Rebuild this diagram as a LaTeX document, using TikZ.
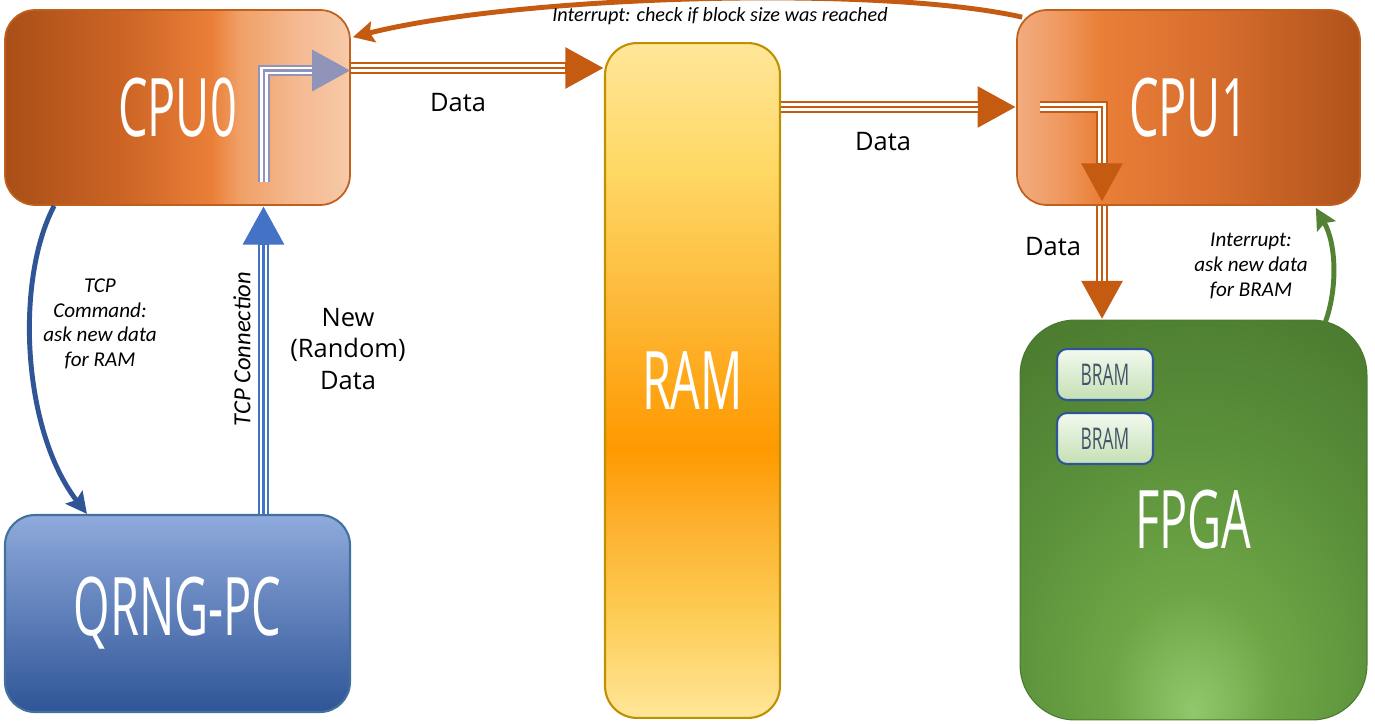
\documentclass[tikz,border=0pt]{standalone}
\usepackage{fontspec}
\setmainfont{Open Sans}
\newfontfamily\blockfont[FakeStretch=0.58]{Open Sans}
\newfontfamily\notefont{Carlito}
\usetikzlibrary{arrows.meta,calc}

% colours
\definecolor{cpudark}{HTML}{A94F17}
\definecolor{cpumid}{HTML}{CC6425}
\definecolor{cpuorange}{HTML}{EA7F38}
\definecolor{cpupeach}{HTML}{F0A067}
\definecolor{cpupale}{HTML}{F4B890}
\definecolor{cpulight}{HTML}{F7CAA8}
\definecolor{cpuleft}{HTML}{F2AC7E}
\definecolor{cpuleftb}{HTML}{EF9A62}
\definecolor{cpuright}{HTML}{B0521A}
\definecolor{cpurightb}{HTML}{D56C2C}
\definecolor{cpuedge}{HTML}{C0601F}
\definecolor{ramlight}{HTML}{FFE699}
\definecolor{ramlow}{HTML}{FDCB52}
\definecolor{ramdeep}{HTML}{FDAE2A}
\definecolor{ramorange}{HTML}{FF9900}
\definecolor{ramupper}{HTML}{FDBA3A}
\definecolor{ramyellow}{HTML}{FFD966}
\definecolor{ramedge}{HTML}{BF9000}
\definecolor{qrnglight}{HTML}{8FAADC}
\definecolor{qrngmid}{HTML}{4F7ACB}
\definecolor{qrngdark}{HTML}{2F5597}
\definecolor{qrngedge}{HTML}{41719C}
\definecolor{fpgalight}{HTML}{92C86D}
\definecolor{fpgamid}{HTML}{6EA646}
\definecolor{fpgamain}{HTML}{5A8F3A}
\definecolor{fpgadark}{HTML}{4A7A2E}
\definecolor{bramtop}{HTML}{F3F9EF}
\definecolor{brambottom}{HTML}{C5E0B4}
\definecolor{bramedge}{HTML}{2F5597}
\definecolor{bramtext}{HTML}{44546A}
\definecolor{linkorange}{HTML}{C55A11}
\definecolor{linkgrey}{HTML}{8F94B8}
\definecolor{linkblue}{HTML}{4472C4}
\definecolor{cmdblue}{HTML}{2F5597}
\definecolor{irqgreen}{HTML}{548235}

% shadings
\pgfdeclarehorizontalshading{cpuzeroshade}{100bp}{color(0bp)=(cpudark); color(25bp)=(cpudark);
  color(42bp)=(cpumid); color(55bp)=(cpuorange); color(59bp)=(cpupeach); color(67bp)=(cpupale);
  color(75bp)=(cpulight); color(100bp)=(cpulight)}
\pgfdeclarehorizontalshading{cpuoneshade}{100bp}{color(0bp)=(cpuleft); color(25bp)=(cpuleft);
  color(31bp)=(cpuleftb); color(37bp)=(cpuorange); color(55bp)=(cpurightb);
  color(75bp)=(cpuright); color(100bp)=(cpuright)}
\pgfdeclareverticalshading{ramshade}{100bp}{color(0bp)=(ramlight); color(25bp)=(ramlight);
  color(33bp)=(ramlow); color(40bp)=(ramdeep); color(45bp)=(ramorange); color(56bp)=(ramupper);
  color(66bp)=(ramyellow); color(75bp)=(ramlight); color(100bp)=(ramlight)}
\pgfdeclareradialshading{fpgashade}{\pgfpoint{0bp}{-24bp}}{color(0bp)=(fpgalight);
  color(12bp)=(fpgamid); color(28bp)=(fpgamain); color(45bp)=(fpgadark); color(100bp)=(fpgadark)}

\tikzset{
  block/.style={shade, draw, line width=1pt, text=white, inner sep=0pt,
    font={\blockfont\fontsize{46}{50}\selectfont}},
  cpubox/.style={block, draw=cpuedge, rounded corners=0.6cm,
    minimum width=6.9cm, minimum height=3.9cm},
  brambox/.style={shade, top color=bramtop, bottom color=brambottom, draw=bramedge,
    line width=1.2pt, rounded corners=0.2cm, minimum width=1.92cm, minimum height=1.02cm,
    inner sep=0pt, text=bramtext, font={\blockfont\fontsize{17}{19}\selectfont}},
  bigflow/.style={draw=#1, line width=6.8pt, -{Triangle[length=22pt,width=22pt]},
    postaction={draw=white, line width=4.1pt, -, shorten >=22pt},
    postaction={draw=#1, line width=1.4pt, -, shorten >=22pt}},
  signal/.style={draw=#1, line width=2.8pt, -{Stealth[length=12pt,width=12pt,inset=2pt]}},
  datalabel/.style={font=\fontsize{14.5}{18}\selectfont, align=center},
  notelabel/.style={font={\notefont\itshape\fontsize{12}{14}\selectfont}, align=center}
}

\begin{document}
\begin{tikzpicture}[x=0.02cm, y=-0.02cm]
  \useasboundingbox (0,0) rectangle (1375,723);

  % blocks
  \node[cpubox, shading=cpuzeroshade] (cpu0) at (177.5,107.5) {CPU0};
  \node[cpubox, shading=cpuoneshade, minimum width=6.86cm] (cpu1) at (1188.5,107.5) {CPU1};
  \node[block, shading=ramshade, draw=ramedge, line width=1.2pt, rounded corners=0.64cm,
    minimum width=3.5cm, minimum height=13.5cm] (ram) at (692.5,380.5) {RAM};
  \node[block, top color=qrnglight, middle color=qrngmid, bottom color=qrngdark,
    draw=qrngedge, line width=1.2pt, rounded corners=0.6cm,
    minimum width=6.9cm, minimum height=3.94cm] (qrng) at (177.5,613.5) {QRNG-PC};
  \node[block, shading=fpgashade, draw=fpgadark, line width=0.6pt, rounded corners=1.1cm,
    minimum width=6.94cm, minimum height=8cm] (fpga) at (1193.5,520) {FPGA};
  \node[brambox] (bramA) at (1105,374.5) {BRAM};
  \node[brambox] (bramB) at (1105,438.5) {BRAM};

  % inner flows
  \coordinate (cpu0in) at (264,182);
  \coordinate (cpu1in) at (1040,107);
  \coordinate (cpu1out) at (1102,202);
  \draw[bigflow=linkgrey] (cpu0in) |- ($(cpu0.east)+(0,-37)$);
  \draw[bigflow=linkorange] (cpu1in) -| (cpu1out);

  % data paths
  \coordinate (dataA) at ($(cpu0.east)+(0,-39.5)$);
  \coordinate (dataB) at ($(ram.east)+(0,-273.5)$);
  \draw[bigflow=linkorange] (dataA) -- (dataA -| ram.west);
  \draw[bigflow=linkorange] (dataB) -- (dataB -| cpu1.west);
  \draw[bigflow=linkorange] (cpu1out |- cpu1.south) -- (cpu1out |- fpga.north);
  \draw[bigflow=linkblue] ($(qrng.north)+(86,0)$) -- ($(cpu0.south)+(86,0)$);

  % signals
  \draw[signal=linkorange] ($(cpu1.north west)+(6,8)$)
    .. controls (880,-15) and (520,-5) .. ($(cpu0.north east)+(2,28)$);
  \draw[signal=cmdblue] ($(cpu0.south west)+(50,0)$)
    .. controls (15,280) and (22,430) .. ($(qrng.north west)+(83,0)$);
  \draw[signal=irqgreen] ($(fpga.north east)+(-42,2)$)
    .. controls (1337,290) and (1337,245) .. ($(cpu1.south east)+(-45,2)$);

  % labels
  \node[datalabel] (dataAlabel) at (458,103) {Data};
  \node[datalabel] (dataBlabel) at (883,142) {Data};
  \node[datalabel] (dataClabel) at (1053,247) {Data};
  \node[datalabel] (newdata) at (348,349) {New\\(Random)\\Data};
  \node[notelabel, font={\notefont\itshape\fontsize{11.5}{14}\selectfont}] (irqblock) at (720,16)
    {Interrupt: check if block size was reached};
  \node[notelabel] (tcpcmd) at (100,324) {TCP\\Command:\\ask new data\\for RAM};
  \node[notelabel, font={\notefont\itshape\fontsize{14}{16}\selectfont}, rotate=90] (tcpconn)
    at (242,349) {TCP Connection};
  \node[notelabel] (irqbram) at (1251,266) {Interrupt:\\ask new data\\for BRAM};
\end{tikzpicture}
\end{document}
